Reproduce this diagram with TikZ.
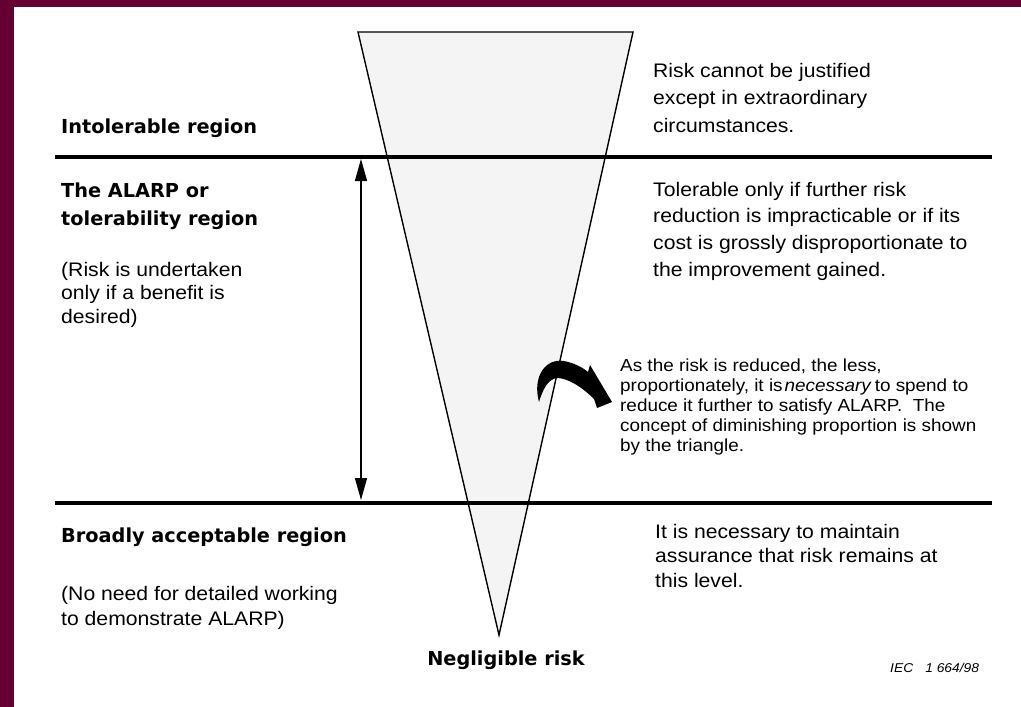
\documentclass[tikz,border=0pt]{standalone}
\usepackage{fontspec}
\usetikzlibrary{arrows.meta}
\newfontfamily\bodyfont[FakeStretch=1.08]{Liberation Sans}
\newfontfamily\headfont{DejaVu Sans}
\definecolor{framecol}{HTML}{660033}
\definecolor{wedgecol}{HTML}{F4F4F4}
\newcommand{\block}[1]{\begin{tabular}[t]{@{}l@{}}#1\end{tabular}}
\begin{document}
\begin{tikzpicture}[x=1pt,y=-1pt,
  head/.style={font=\headfont\bfseries\fontsize{19.3}{28}\selectfont, inner sep=0pt, anchor=base west},
  body/.style={font=\bodyfont\fontsize{19.6}{#1}\selectfont, inner sep=0pt, anchor=base west},
  body/.default=27,
  small/.style={font=\bodyfont\fontsize{17.5}{20}\selectfont, inner sep=0pt, anchor=base west},
  divider/.style={line width=4pt},
  wedge/.style={fill=wedgecol, draw=black, line width=1.4pt, line join=miter},
  span/.style={line width=1.3pt, {Triangle[length=22pt,width=12pt]}-{Triangle[length=22pt,width=12pt]}}]
% frame
\fill[framecol] (0,0) rectangle (1021,707);
\fill[white] (14,7) rectangle (1021,707);
\useasboundingbox (0,0) rectangle (1021,707);

% risk triangle
\coordinate (tl) at (358,32);
\coordinate (tr) at (633,32);
\coordinate (apex) at (499,635);
\path[wedge] (tl) -- (tr) -- (apex) -- cycle;

% region boundaries
\coordinate (upL) at (55,157);
\coordinate (upR) at (992,157);
\coordinate (loL) at (55,503);
\coordinate (loR) at (992,503);
\draw[divider] (upL) -- (upR);
\draw[divider] (loL) -- (loR);

% extent of the ALARP region
\coordinate (spanTop) at (361,159);
\coordinate (spanBot) at (361,500);
\draw[span] (spanBot) -- (spanTop);

% curved arrow
\fill[black] (539,402) .. controls (532,376) and (546,358) .. (564,361)
  .. controls (574,363) and (582,367) .. (588,372)
  -- (590,365) -- (612,402) -- (597,408) -- (594,399)
  .. controls (581,386) and (567,378) .. (557,378)
  .. controls (548,379) and (543,389) .. (539,402) -- cycle;

% left column
\node[head] (intol) at (61,133) {Intolerable region};
\node[head] (alarp) at (61,197) {\block{The ALARP or\\tolerability region}};
\node[body=23.5] (alarpnote) at (61,276) {\block{(Risk is undertaken\\only if a benefit is\\desired)}};
\node[head] (broad) at (61,542) {Broadly acceptable region};
\node[body=25] (broadnote) at (61,600) {\block{(No need for detailed working\\to demonstrate ALARP)}};

% right column
\node[body=27.5] (intolnote) at (653,77) {\block{Risk cannot be justified\\except in extraordinary\\circumstances.}};
\node[body=26.7] (tolnote) at (653,196) {\block{Tolerable only if further risk\\reduction is impracticable or if its\\cost is grossly disproportionate to\\the improvement gained.}};
\node[small] (dimnote) at (620,371) {\block{As the risk is reduced, the less,\\proportionately, it is\hspace{2pt}\textit{necessary}\hspace{3pt}to spend to\\reduce it further to satisfy ALARP.~ The\\concept of diminishing proportion is shown\\by the triangle.}};
\node[body=24.5] (broadright) at (655,538) {\block{It is necessary to maintain\\assurance that risk remains at\\this level.}};

% bottom labels
\node[head, anchor=base] (negl) at (506,665) {Negligible risk};
\node[font=\bodyfont\itshape\fontsize{12.8}{14}\selectfont, inner sep=0pt, anchor=base west] (ref) at (890,672) {IEC\hspace{12pt}1 664/98};
\end{tikzpicture}
\end{document}
